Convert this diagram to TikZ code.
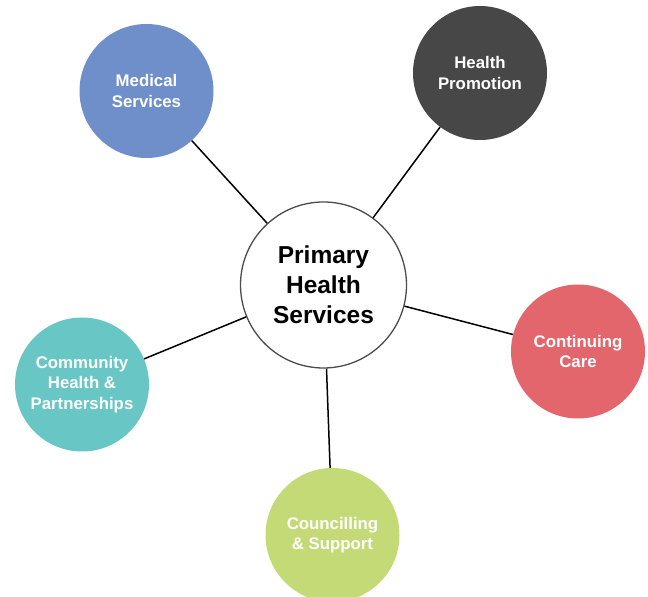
\documentclass[tikz,border=0pt]{standalone}
\usepackage{fontspec}
\setmainfont{Liberation Sans}
\definecolor{medblue}{HTML}{6E8FCA}
\definecolor{darkgrey}{HTML}{474747}
\definecolor{carered}{HTML}{E3666D}
\definecolor{commteal}{HTML}{68C7C5}
\definecolor{councgreen}{HTML}{C4DA77}
\begin{document}
\begin{tikzpicture}[x=1pt,y=1pt,
  sat/.style={circle, minimum size=134pt, inner sep=0pt, align=center, text=white,
    font=\fontsize{16.8}{20.5}\selectfont\bfseries},
  hub/.style={circle, draw=black!70, line width=1.3pt, fill=white, minimum size=166pt,
    inner sep=0pt, align=center, font=\fontsize{24.5}{30}\selectfont\bfseries},
  link/.style={line width=1.5pt, black}]
\useasboundingbox (0,0) rectangle (648,597);
\node[hub] (c) at (323.5,312) {Primary\\Health\\Services};
\node[sat, fill=medblue] (m) at (146.5,506) {Medical\\Services};
\node[sat, fill=darkgrey] (h) at (480,524) {Health\\Promotion};
\node[sat, fill=carered] (cc) at (578,245.5) {Continuing\\Care};
\node[sat, fill=commteal] (p) at (82,212.5) {Community\\Health \&\\Partnerships};
\node[sat, fill=councgreen] (s) at (332.5,62) {Councilling\\\& Support};
\draw[link] (c) -- (m);
\draw[link] (c) -- (h);
\draw[link] (c) -- (cc);
\draw[link] (c) -- (p);
\draw[link] (c) -- (s);
\end{tikzpicture}
\end{document}
